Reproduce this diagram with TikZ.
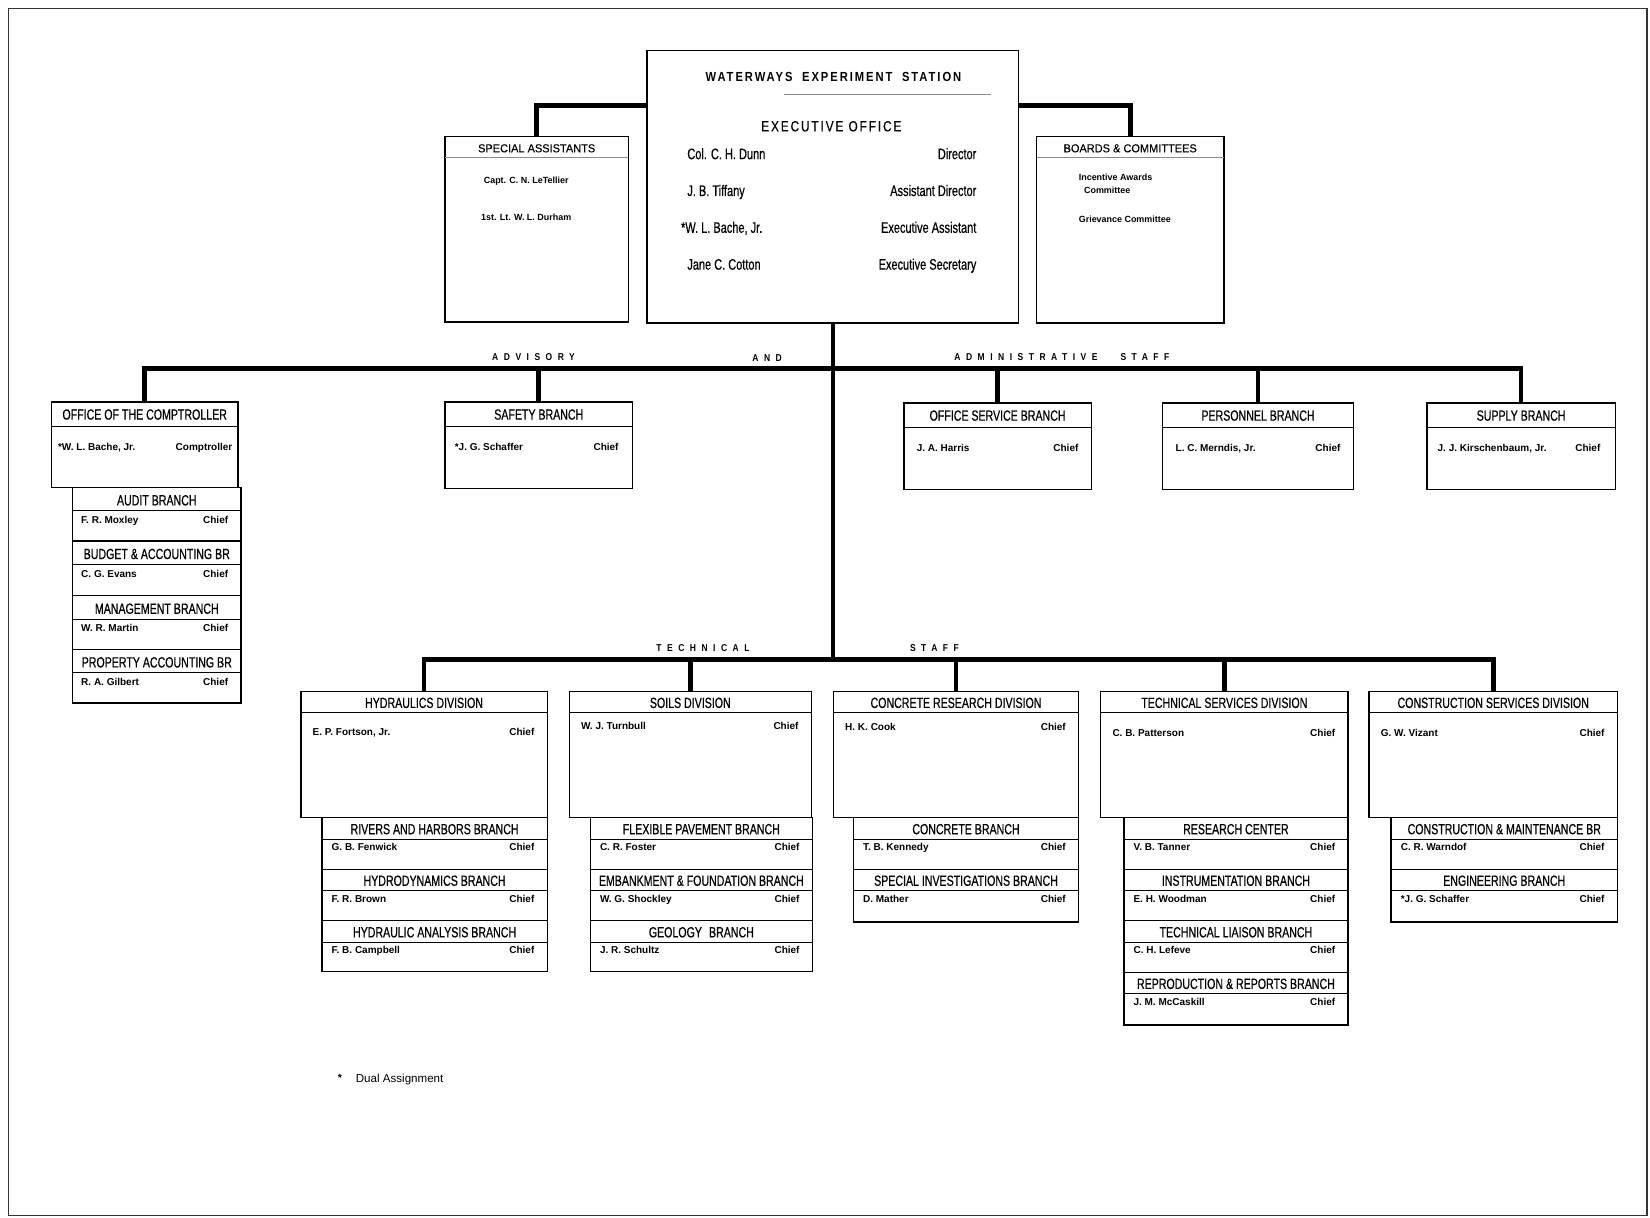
\documentclass[tikz,border=0pt]{standalone}
\usepackage{fontspec}
\setmainfont{Liberation Sans}
\newfontfamily\condfont[FakeStretch=0.72,FakeBold=0.5]{Liberation Sans}
\newfontfamily\semicond[FakeStretch=0.95,FakeBold=0.3]{Liberation Sans}
\newfontfamily\titlefont[FakeStretch=0.85,LetterSpace=15]{Liberation Sans}
\newfontfamily\officefont[FakeStretch=0.8,LetterSpace=13,FakeBold=0.4]{Liberation Sans}
\newfontfamily\stafffont[FakeStretch=0.85,LetterSpace=55]{Liberation Sans}
\usetikzlibrary{calc}

\tikzset{
  unit/.style={draw, line width=1.3pt, outer sep=0pt, inner sep=0pt},
  hdr/.style={font=\condfont\fontsize{14}{14}\selectfont, inner sep=0pt, text height=9.5pt, text depth=0pt},
  hdrsmall/.style={font=\semicond\fontsize{11}{11}\selectfont, inner sep=0pt, text height=7.5pt, text depth=0pt},
  who/.style={font=\bfseries\fontsize{9.5}{9.5}\selectfont, inner sep=0pt, text height=7pt, text depth=0pt},
  smallbold/.style={font=\bfseries\fontsize{8.5}{8.5}\selectfont, inner sep=0pt, text height=6.5pt, text depth=0pt},
  exrow/.style={font=\condfont\fontsize{14.5}{14.5}\selectfont, inner sep=0pt, text height=10.5pt, text depth=0pt},
  stafflabel/.style={font=\stafffont\bfseries\fontsize{9.5}{9.5}\selectfont, inner sep=0pt},
  rule/.style={line width=0.9pt},
  faintrule/.style={line width=0.7pt, black!45},
  bar/.style={line width=4.5pt, line join=miter},
}

% one box with a header band and a "name ... title" row;
% offsets \hy, \sy, \ny, \nx, \tx are set before each group of boxes
\newcommand\orgunit[8]{%
  \pgfmathsetmacro\uw{#4-#2}%
  \pgfmathsetmacro\uh{#5-#3}%
  \node[unit, minimum width=\uw pt, minimum height=\uh pt, anchor=north west] (#1) at (#2,#3) {};
  \node[hdr] (#1-hd) at ($(#1.north)+(0,\hy)$) {#6};
  \draw[rule] ($(#1.north west)+(0,\sy)$) -- ($(#1.north east)+(0,\sy)$);
  \node[who, anchor=west] (#1-nm) at ($(#1.north west)+(\nx,\ny)$) {#7};
  \node[who, anchor=east] (#1-tl) at ($(#1.north east)+(-\tx,\ny)$) {#8};
}

\begin{document}
\begin{tikzpicture}[x=1pt,y=-1pt]
\useasboundingbox (0,0) rectangle (1568,1157);
\fill[white] (0,0) rectangle (1568,1157);

% sheet border
\draw[line width=1.3pt, black!80] (8,8) rectangle (1565,1155);

% ---------- executive office ----------
\node[unit, minimum width=353pt, minimum height=259pt, anchor=north west] (exec) at (615,48) {};
\node[font=\titlefont\bfseries\fontsize{12.5}{12.5}\selectfont, inner sep=0pt] (wes) at (792,73)
  {WATERWAYS\hspace{9pt}EXPERIMENT\hspace{9pt}STATION};
\draw[faintrule] (745,90) -- (942,90);
\node[font=\officefont\fontsize{14}{14}\selectfont, inner sep=0pt] (eo) at (790,120) {EXECUTIVE OFFICE};
\node[exrow, anchor=west] (e1n) at (653,146) {Col. C. H. Dunn};
\node[exrow, anchor=east] (e1t) at (928,146) {Director};
\node[exrow, anchor=west] (e2n) at (653,181) {J. B. Tiffany};
\node[exrow, anchor=east] (e2t) at (928,181) {Assistant Director};
\node[exrow, anchor=west] (e3n) at (647,216) {*W. L. Bache, Jr.};
\node[exrow, anchor=east] (e3t) at (928,216) {Executive Assistant};
\node[exrow, anchor=west] (e4n) at (653,251) {Jane C. Cotton};
\node[exrow, anchor=east] (e4t) at (928,251) {Executive Secretary};

% special assistants
\node[unit, minimum width=174pt, minimum height=176pt, anchor=north west] (spa) at (423,130) {};
\node[hdrsmall] (spa-hd) at ($(spa.north)+(0,11)$) {SPECIAL ASSISTANTS};
\draw[faintrule] ($(spa.north west)+(0,20)$) -- ($(spa.north east)+(0,20)$);
\node[smallbold] (spa-1) at (500,171) {Capt. C. N. LeTellier};
\node[smallbold] (spa-2) at (500,206) {1st. Lt. W. L. Durham};

% boards and committees
\node[unit, minimum width=178pt, minimum height=177pt, anchor=north west] (brd) at (985,130) {};
\node[hdrsmall] (brd-hd) at ($(brd.north)+(0,11)$) {BOARDS \& COMMITTEES};
\draw[faintrule] ($(brd.north west)+(0,20)$) -- ($(brd.north east)+(0,20)$);
\node[smallbold, anchor=west] (brd-1) at (1025,168) {Incentive Awards};
\node[smallbold, anchor=west] (brd-2) at (1030,181) {Committee};
\node[smallbold, anchor=west] (brd-3) at (1025,208) {Grievance Committee};

% ---------- advisory and administrative staff ----------
\def\hy{12}\def\sy{23}\def\ny{43}
\def\nx{6}\def\tx{5}
\orgunit{comp}{49}{382}{226}{463}{OFFICE OF THE COMPTROLLER}{*W. L. Bache, Jr.}{Comptroller}
\def\nx{9}\def\tx{13}
\orgunit{saf}{423}{382}{601}{464}{SAFETY BRANCH}{*J. G. Schaffer}{Chief}
\def\nx{12}\def\tx{12}
\orgunit{osb}{859}{383}{1037}{465}{OFFICE SERVICE BRANCH}{J. A. Harris}{Chief}
\orgunit{per}{1105}{383}{1286}{465}{PERSONNEL BRANCH}{L. C. Merndis, Jr.}{Chief}
\def\nx{10}\def\tx{14}
\orgunit{sup}{1356}{383}{1535}{465}{SUPPLY BRANCH}{J. J. Kirschenbaum, Jr.}{Chief}

% branches under the comptroller
\def\hy{12.5}\def\sy{22.5}\def\ny{31}\def\nx{8}\def\tx{12}
\orgunit{aud}{69}{463}{229}{514}{AUDIT BRANCH}{F. R. Moxley}{Chief}
\orgunit{bud}{69}{514}{229}{566}{BUDGET \& ACCOUNTING BR}{C. G. Evans}{Chief}
\orgunit{mgt}{69}{566}{229}{617}{MANAGEMENT BRANCH}{W. R. Martin}{Chief}
\orgunit{pac}{69}{617}{229}{668}{PROPERTY ACCOUNTING BR}{R. A. Gilbert}{Chief}

% ---------- technical staff: divisions ----------
\def\hy{11}\def\sy{20}\def\nx{11}\def\tx{12}
\def\ny{38}
\orgunit{hyd}{286}{657}{520}{777}{HYDRAULICS DIVISION}{E. P. Fortson, Jr.}{Chief}
\def\ny{33}
\orgunit{soi}{541}{657}{771}{777}{SOILS DIVISION}{W. J. Turnbull}{Chief}
\def\ny{34}
\orgunit{cre}{792}{657}{1025}{777}{CONCRETE RESEARCH DIVISION}{H. K. Cook}{Chief}
\def\ny{39}
\orgunit{tsd}{1046}{657}{1281}{777}{TECHNICAL SERVICES DIVISION}{C. B. Patterson}{Chief}
\orgunit{csd}{1301}{657}{1537}{777}{CONSTRUCTION SERVICES DIVISION}{G. W. Vizant}{Chief}

% ---------- technical staff: branches ----------
\def\hy{11}\def\sy{20.5}\def\ny{28}\def\nx{9}\def\tx{12}
\orgunit{rhb}{306}{777}{520}{826}{RIVERS AND HARBORS BRANCH}{G. B. Fenwick}{Chief}
\orgunit{hdb}{306}{826}{520}{875}{HYDRODYNAMICS BRANCH}{F. R. Brown}{Chief}
\orgunit{hab}{306}{875}{520}{923}{HYDRAULIC ANALYSIS BRANCH}{F. B. Campbell}{Chief}

\orgunit{fpb}{561}{777}{772}{826}{FLEXIBLE PAVEMENT BRANCH}{C. R. Foster}{Chief}
\orgunit{efb}{561}{826}{772}{875}{EMBANKMENT \& FOUNDATION BRANCH}{W. G. Shockley}{Chief}
\orgunit{geo}{561}{875}{772}{923}{GEOLOGY\hspace{4pt} BRANCH}{J. R. Schultz}{Chief}

\orgunit{cnb}{811}{777}{1025}{826}{CONCRETE BRANCH}{T. B. Kennedy}{Chief}
\orgunit{sib}{811}{826}{1025}{876}{SPECIAL INVESTIGATIONS BRANCH}{D. Mather}{Chief}

\orgunit{rsc}{1068}{777}{1281}{826}{RESEARCH CENTER}{V. B. Tanner}{Chief}
\orgunit{inb}{1068}{826}{1281}{875}{INSTRUMENTATION BRANCH}{E. H. Woodman}{Chief}
\orgunit{tlb}{1068}{875}{1281}{924}{TECHNICAL LIAISON BRANCH}{C. H. Lefeve}{Chief}
\orgunit{rrb}{1068}{924}{1281}{974}{REPRODUCTION \& REPORTS BRANCH}{J. M. McCaskill}{Chief}

\orgunit{cmb}{1322}{777}{1537}{826}{CONSTRUCTION \& MAINTENANCE BR}{C. R. Warndof}{Chief}
\orgunit{eng}{1322}{826}{1537}{876}{ENGINEERING BRANCH}{*J. G. Schaffer}{Chief}

% ---------- connectors ----------
\coordinate (exl) at ($(exec.north west)+(0,52)$);
\coordinate (exr) at ($(exec.north east)+(0,52)$);
\draw[bar] (exl) -| (spa.north);
\draw[bar] (exr) -| (brd.north);

\coordinate (adv) at (exec.south |- 0,350);
\coordinate (tec) at (exec.south |- 0,627);
\draw[bar] (exec.south) -- (tec);

\draw[bar] (comp.north) |- (adv) -| (sup.north);
\draw[bar] (saf.north) -- (saf.north |- adv);
\draw[bar] (osb.north) -- (osb.north |- adv);
\draw[bar] (per.north) -- (per.north |- adv);

\draw[bar] (hyd.north) |- (tec) -| (csd.north);
\draw[bar] (soi.north) -- (soi.north |- tec);
\draw[bar] (cre.north) -- (cre.north |- tec);
\draw[bar] (tsd.north) -- (tsd.north |- tec);

% ---------- staff labels ----------
\node[stafflabel] (lb-adv) at (507,339) {ADVISORY};
\node[stafflabel] (lb-and) at (729,340) {AND};
\node[stafflabel] (lb-adm) at (975,339) {ADMINISTRATIVE};
\node[stafflabel] (lb-stf) at (1088,339) {STAFF};
\node[stafflabel] (lb-tec) at (668,616) {TECHNICAL};
\node[stafflabel] (lb-ts) at (888,616) {STAFF};

% ---------- footnote ----------
\node[font=\bfseries\fontsize{10}{10}\selectfont, inner sep=0pt] (fn-star) at (323,1024) {*};
\node[font=\fontsize{11}{11}\selectfont, inner sep=0pt, anchor=west] (fn-text) at (338,1026) {Dual Assignment};
\end{tikzpicture}
\end{document}
